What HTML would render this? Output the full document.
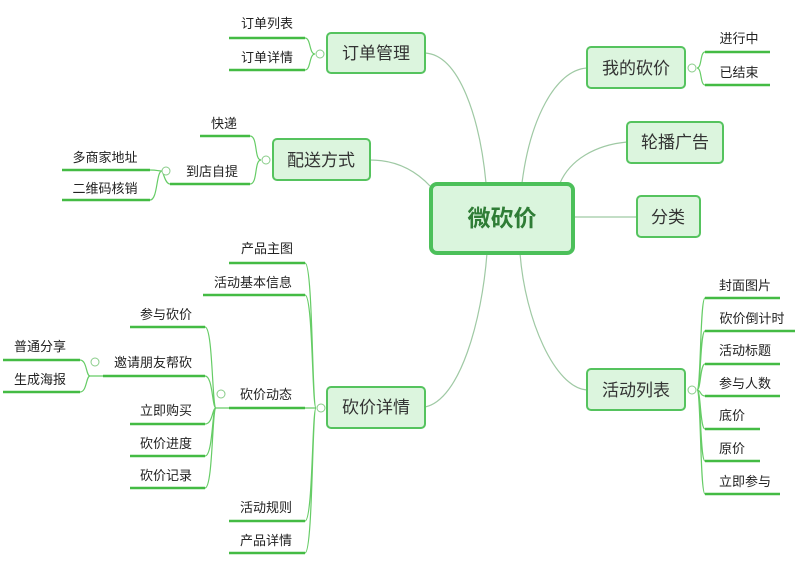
<!DOCTYPE html>
<html><head><meta charset="utf-8"><style>
html,body{margin:0;padding:0;background:#fff;}
svg{display:block;font-family:"Liberation Sans","Noto Sans CJK SC",sans-serif;}
.lf{font-size:13px;fill:#222;text-anchor:middle;}
.ul{stroke:#44bb44;stroke-width:2.5;}
.br{fill:none;stroke:#66cc66;stroke-width:1.2;}
.cn{fill:none;stroke:#9fc9a4;stroke-width:1.2;}
.mb{fill:#dcf5de;stroke:#55c35e;stroke-width:2;}
.mt{font-size:17px;fill:#333;text-anchor:middle;}
.ci{fill:#fff;stroke:#8c8;stroke-width:1;}
</style></head><body>
<svg width="800" height="576" viewBox="0 0 800 576">
<!-- connectors from centre -->
<path class="cn" d="M425,53 C460,55 480,120 486,183"/>
<path class="cn" d="M370,160 C395,160 415,170 430,186"/>
<path class="cn" d="M425,407 C460,400 482,320 487,253"/>
<path class="cn" d="M587,68 C555,70 530,120 522,183"/>
<path class="cn" d="M627,142 C595,145 570,160 560,183"/>
<path class="cn" d="M637,217 L573,217"/>
<path class="cn" d="M587,390 C555,388 525,320 520,253"/>

<!-- centre -->
<rect x="431" y="184" width="142" height="69" rx="6" fill="#daf5dd" stroke="#4cc05a" stroke-width="4"/>
<text x="502" y="226" font-size="23" font-weight="bold" fill="#2f7d36" text-anchor="middle">微砍价</text>

<!-- main nodes -->
<rect class="mb" x="327" y="33" width="98" height="40" rx="4"/><text class="mt" x="376" y="59">订单管理</text>
<rect class="mb" x="273" y="139" width="97" height="41" rx="4"/><text class="mt" x="321" y="166">配送方式</text>
<rect class="mb" x="327" y="387" width="98" height="41" rx="4"/><text class="mt" x="376" y="413">砍价详情</text>
<rect class="mb" x="587" y="47" width="98" height="41" rx="4"/><text class="mt" x="636" y="74">我的砍价</text>
<rect class="mb" x="627" y="122" width="96" height="41" rx="4"/><text class="mt" x="675" y="148">轮播广告</text>
<rect class="mb" x="637" y="196" width="63" height="41" rx="4"/><text class="mt" x="668" y="223">分类</text>
<rect class="mb" x="587" y="369" width="98" height="41" rx="4"/><text class="mt" x="636" y="396">活动列表</text>

<!-- 订单管理 leaves -->
<line class="ul" x1="229" y1="38" x2="305" y2="38"/><text class="lf" x="267" y="28">订单列表</text>
<line class="ul" x1="229" y1="70" x2="305" y2="70"/><text class="lf" x="267" y="62">订单详情</text>
<path class="br" d="M315,54 C309,54 311,38 305,38 M315,54 C309,54 311,70 305,70 M327,54 L327,54"/>
<circle class="ci" cx="320" cy="54" r="4"/>

<!-- 配送方式 leaves -->
<line class="ul" x1="200" y1="136" x2="250" y2="136"/><text class="lf" x="224" y="128">快递</text>
<line class="ul" x1="170" y1="184" x2="250" y2="184"/><text class="lf" x="212" y="176">到店自提</text>
<path class="br" d="M261,160 C254,160 258,136 250,136 M261,160 C254,160 258,184 250,184"/>
<circle class="ci" cx="266" cy="160" r="4"/>
<line class="ul" x1="62" y1="170" x2="150" y2="170"/><text class="lf" x="105" y="162">多商家地址</text>
<line class="ul" x1="62" y1="200" x2="150" y2="200"/><text class="lf" x="105" y="193">二维码核销</text>
<path class="br" d="M170,184 C165,184 163,171 162,171 M162,171 C157,171 158,170 150,170 M162,171 C156,171 158,200 150,200"/>
<circle class="ci" cx="166" cy="171" r="4"/>

<!-- 砍价详情 leaves -->
<line class="ul" x1="229" y1="263" x2="305" y2="263"/><text class="lf" x="267" y="253">产品主图</text>
<line class="ul" x1="203" y1="295" x2="305" y2="295"/><text class="lf" x="253" y="287">活动基本信息</text>
<line class="ul" x1="229" y1="408" x2="305" y2="408"/><text class="lf" x="266" y="399">砍价动态</text>
<line class="ul" x1="229" y1="521" x2="305" y2="521"/><text class="lf" x="266" y="512">活动规则</text>
<line class="ul" x1="229" y1="553" x2="305" y2="553"/><text class="lf" x="266" y="545">产品详情</text>
<path class="br" d="M316,408 C312,408 313,263 305,263 M316,408 C312,408 313,295 305,295 M316,408 L305,408 M316,408 C312,408 313,521 305,521 M316,408 C312,408 313,553 305,553"/>
<circle class="ci" cx="321" cy="408" r="4"/>

<!-- 砍价动态 children -->
<line class="ul" x1="130" y1="327" x2="205" y2="327"/><text class="lf" x="166" y="319">参与砍价</text>
<line class="ul" x1="103" y1="376" x2="205" y2="376"/><text class="lf" x="153" y="367">邀请朋友帮砍</text>
<line class="ul" x1="130" y1="424" x2="205" y2="424"/><text class="lf" x="166" y="415">立即购买</text>
<line class="ul" x1="130" y1="456" x2="205" y2="456"/><text class="lf" x="166" y="448">砍价进度</text>
<line class="ul" x1="130" y1="488" x2="205" y2="488"/><text class="lf" x="166" y="480">砍价记录</text>
<path class="br" d="M229,408 L216,408 M216,408 C212,408 213,327 205,327 M216,408 C212,408 213,376 205,376 M216,408 C212,408 213,424 205,424 M216,408 C212,408 213,456 205,456 M216,408 C212,408 213,488 205,488"/>
<circle class="ci" cx="221" cy="394" r="4"/>

<!-- 邀请朋友帮砍 children -->
<line class="ul" x1="3" y1="360" x2="80" y2="360"/><text class="lf" x="40" y="351">普通分享</text>
<line class="ul" x1="3" y1="392" x2="80" y2="392"/><text class="lf" x="40" y="384">生成海报</text>
<path class="br" d="M103,376 L90,376 M90,376 C86,376 87,360 80,360 M90,376 C86,376 87,392 80,392"/>
<circle class="ci" cx="95" cy="362" r="4"/>

<!-- 我的砍价 leaves -->
<line class="ul" x1="705" y1="52" x2="770" y2="52"/><text class="lf" x="739" y="43">进行中</text>
<line class="ul" x1="705" y1="85" x2="770" y2="85"/><text class="lf" x="739" y="77">已结束</text>
<path class="br" d="M697,68 C702,68 700,52 705,52 M697,68 C702,68 700,85 705,85"/>
<circle class="ci" cx="692" cy="68" r="4"/>

<!-- 活动列表 leaves -->
<line class="ul" x1="705" y1="298" x2="780" y2="298"/><text class="lf" x="745" y="290">封面图片</text>
<line class="ul" x1="705" y1="331" x2="795" y2="331"/><text class="lf" x="752" y="323">砍价倒计时</text>
<line class="ul" x1="705" y1="364" x2="780" y2="364"/><text class="lf" x="745" y="355">活动标题</text>
<line class="ul" x1="705" y1="396" x2="780" y2="396"/><text class="lf" x="745" y="388">参与人数</text>
<line class="ul" x1="705" y1="429" x2="760" y2="429"/><text class="lf" x="732" y="420">底价</text>
<line class="ul" x1="705" y1="461" x2="760" y2="461"/><text class="lf" x="732" y="453">原价</text>
<line class="ul" x1="705" y1="494" x2="780" y2="494"/><text class="lf" x="745" y="486">立即参与</text>
<path class="br" d="M697,390 C701,390 700,298 705,298 M697,390 C701,390 700,331 705,331 M697,390 C701,390 700,364 705,364 M697,390 C701,390 700,396 705,396 M697,390 C701,390 700,429 705,429 M697,390 C701,390 700,461 705,461 M697,390 C701,390 700,494 705,494"/>
<circle class="ci" cx="692" cy="390" r="4"/>
</svg>
</body></html>
